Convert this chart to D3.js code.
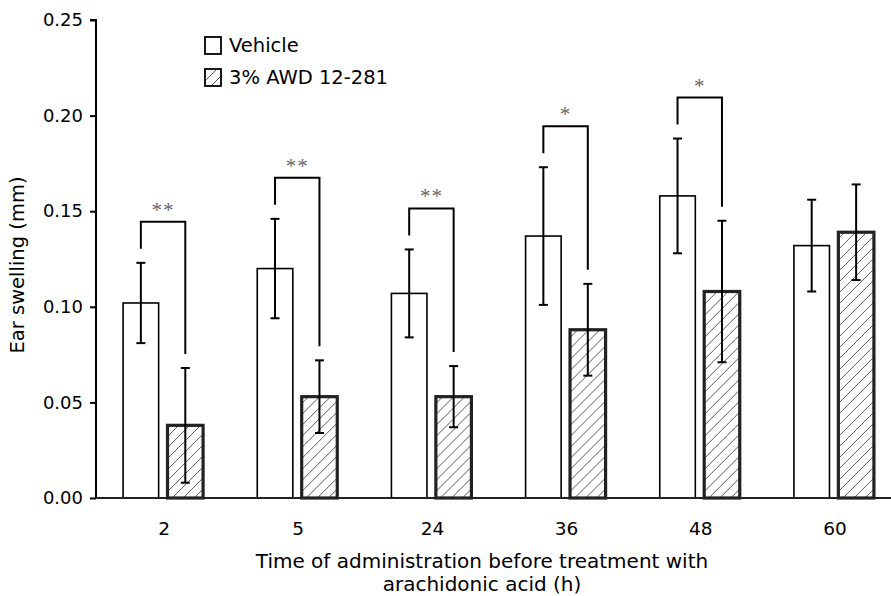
<html>
<script src="https://d3js.org/d3.v7.min.js"></script>
<style>
  body { margin: 0; background: #fff; }
  text { font-family: "DejaVu Sans", sans-serif; fill: #000; }
</style>
<body>
<svg width="891" height="596"></svg>
<script>
// data
const times = ["2", "5", "24", "36", "48", "60"];
const series = ["Vehicle", "3% AWD 12-281"];
const vehicle = [0.102, 0.120, 0.107, 0.137, 0.158, 0.132];
const vehicleErr = [0.021, 0.026, 0.023, 0.036, 0.030, 0.024];
const treated = [0.038, 0.053, 0.053, 0.088, 0.108, 0.139];
const treatedErr = [0.030, 0.019, 0.016, 0.024, 0.037, 0.025];
const signif = ["**", "**", "**", "*", "*", ""];
const yTicks = [0, 0.05, 0.10, 0.15, 0.20, 0.25];

var svg = d3.select("svg");
var plotLeft = 96, plotTop = 20, plotBottom = 498;

var y = d3.scaleLinear().domain([0, 0.25]).range([plotBottom, plotTop]);
var x = d3.scaleBand().domain(times).range([97, 902]).padding(0);
var x1 = d3.scaleBand().domain(series).range([-41, 39]).paddingInner(0.2);

// hatch pattern
var defs = svg.append("defs");
defs.append("pattern")
  .attr("id", "hatch")
  .attr("patternUnits", "userSpaceOnUse")
  .attr("width", 11).attr("height", 11)
  .append("path")
  .attr("d", "M-1,1 L1,-1 M0,11 L11,0 M10,12 L12,10")
  .attr("stroke", "#444")
  .attr("stroke-width", 0.9);

var rows = times.map(function(t, i) {
  return {t: t, i: i,
    bars: [
      {s: series[0], v: vehicle[i], e: vehicleErr[i]},
      {s: series[1], v: treated[i], e: treatedErr[i]}
    ]};
});

var groups = svg.append("g").selectAll("g")
  .data(rows).enter().append("g")
  .attr("transform", d => "translate(" + (x(d.t) + x.bandwidth() / 2) + ",0)");

// bars
groups.selectAll("rect")
  .data(d => d.bars).enter().append("rect")
  .attr("x", d => x1(d.s))
  .attr("width", x1.bandwidth())
  .attr("y", d => y(d.v))
  .attr("height", d => plotBottom - y(d.v))
  .attr("fill", (d, i) => i == 0 ? "#fff" : "url(#hatch)")
  .attr("stroke", (d, i) => i == 0 ? "#000" : "#222")
  .attr("stroke-width", (d, i) => i == 0 ? 1.6 : 3.2);

// error bars
var eb = groups.selectAll("g.err")
  .data(d => d.bars).enter().append("g").attr("class", "err")
  .attr("transform", d => "translate(" + (x1(d.s) + x1.bandwidth() / 2) + ",0)");
eb.append("line")
  .attr("x1", 0).attr("x2", 0)
  .attr("y1", d => y(d.v + d.e)).attr("y2", d => y(d.v - d.e));
eb.append("line")
  .attr("x1", -4.5).attr("x2", 4.5)
  .attr("y1", d => y(d.v + d.e)).attr("y2", d => y(d.v + d.e));
eb.append("line")
  .attr("x1", -4.5).attr("x2", 4.5)
  .attr("y1", d => y(d.v - d.e)).attr("y2", d => y(d.v - d.e));
eb.selectAll("line").attr("stroke", "#000").attr("stroke-width", 2);

// significance brackets
var sg = groups.filter(d => signif[d.i] != "");
sg.append("path")
  .attr("d", function(d) {
    var xa = x1(series[0]) + x1.bandwidth() / 2;
    var xb = x1(series[1]) + x1.bandwidth() / 2;
    var ya = y(d.bars[0].v + d.bars[0].e) - 14;
    var yb = y(d.bars[1].v + d.bars[1].e) - 14;
    var yt = ya - 27;
    return "M" + xa + "," + ya + "V" + yt + "H" + xb + "V" + yb;
  })
  .attr("fill", "none")
  .attr("stroke", "#000")
  .attr("stroke-width", 2);
sg.append("text")
  .attr("x", (x1(series[0]) + x1(series[1]) + x1.bandwidth()) / 2)
  .attr("y", d => y(d.bars[0].v + d.bars[0].e) - 14 - 27 - 5)
  .attr("text-anchor", "middle")
  .style("font-family", "'Liberation Serif', serif")
  .style("font-size", "21px")
  .style("fill", "#666")
  .style("letter-spacing", "1px")
  .text(d => signif[d.i]);

// y axis
var yAxis = svg.append("g")
  .attr("transform", "translate(" + plotLeft + ",0)")
  .call(d3.axisLeft(y).tickValues(yTicks).tickFormat(d3.format(".2f")).tickSize(6).tickPadding(7));
yAxis.select(".domain").attr("stroke-width", 2).attr("d", "M-6," + plotTop + "H0V" + plotBottom);
yAxis.selectAll(".tick line").attr("stroke-width", 2);
yAxis.selectAll(".tick text").style("font-size", "18px").style("font-family", "'DejaVu Sans', sans-serif");

// x axis
var xAxis = svg.append("g")
  .attr("transform", "translate(0," + plotBottom + ")")
  .call(d3.axisBottom(x).tickSize(0).tickPadding(24));
xAxis.select(".domain").attr("stroke-width", 2).attr("stroke", "#222").attr("d", "M" + plotLeft + ",0H891");
xAxis.selectAll(".tick text").style("font-size", "18.5px").style("font-family", "'DejaVu Sans', sans-serif");

// axis titles
svg.append("text")
  .attr("transform", "translate(24,265) rotate(-90)")
  .attr("text-anchor", "middle")
  .style("font-size", "19.5px")
  .text("Ear swelling (mm)");
svg.append("text")
  .attr("x", 482).attr("y", 568)
  .attr("text-anchor", "middle")
  .style("font-size", "20px")
  .text("Time of administration before treatment with");
svg.append("text")
  .attr("x", 482).attr("y", 591)
  .attr("text-anchor", "middle")
  .style("font-size", "20px")
  .text("arachidonic acid (h)");

// legend
var leg = svg.append("g").attr("transform", "translate(205,37)");
leg.selectAll("rect")
  .data(series).enter().append("rect")
  .attr("x", 0).attr("y", (d, i) => i * 32)
  .attr("width", 16).attr("height", 17)
  .attr("fill", (d, i) => i == 0 ? "#fff" : "url(#hatch)")
  .attr("stroke", "#000").attr("stroke-width", 1.8);
leg.selectAll("text")
  .data(series).enter().append("text")
  .attr("x", 24).attr("y", (d, i) => 15 + i * 32)
  .style("font-size", "19.5px")
  .text(d => d);
</script>
</body>
</html>
